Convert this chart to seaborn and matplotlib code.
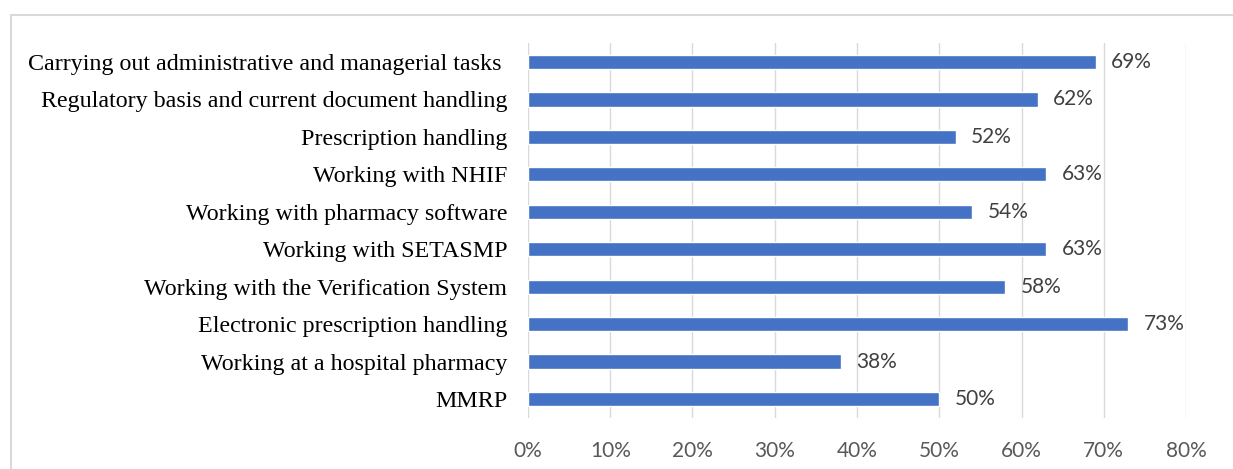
import matplotlib
matplotlib.use("Agg")
import matplotlib.pyplot as plt
import matplotlib.patches as mpatches
import seaborn as sns
import pandas as pd

# chart data
categories = [
    "Carrying out administrative and managerial tasks ",
    "Regulatory basis and current document handling",
    "Prescription handling",
    "Working with NHIF",
    "Working with pharmacy software",
    "Working with SETASMP",
    "Working with the Verification System",
    "Electronic prescription handling",
    "Working at a hospital pharmacy",
    "MMRP",
]
values = [69, 62, 52, 63, 54, 63, 58, 73, 38, 50]
x_ticks = [0, 10, 20, 30, 40, 50, 60, 70, 80]
x_tick_labels = [f"{t}%" for t in x_ticks]

df = pd.DataFrame({"task": categories, "pct": values})

sns.set_theme(style="white")

fig = plt.figure(figsize=(12.33, 4.69), dpi=100)
ax = fig.add_axes([0.4282, 0.1094, 0.9619 - 0.4282, 0.9077 - 0.1094])

sns.barplot(data=df, x="pct", y="task", orient="h", color="#4472C4",
            saturation=1, width=0.38, ax=ax, zorder=3)

ax.set_xlim(0, 80)
ax.set_xticks(x_ticks)
ax.set_xticklabels(x_tick_labels, fontfamily="Lato", fontsize=15, color="#595959")
ax.set_ylim(len(categories) - 0.5, -0.5)
ax.set_yticks(range(len(categories)))
ax.set_yticklabels(categories, fontfamily="Liberation Serif", fontsize=17.3, color="black")
ax.tick_params(axis="x", length=0, pad=17)
ax.tick_params(axis="y", length=0, pad=15)
ax.set_xlabel("")
ax.set_ylabel("")

ax.grid(axis="x", color="#D9D9D9", linewidth=1, zorder=0)
ax.set_axisbelow(True)
for s in ax.spines.values():
    s.set_visible(False)

for cont in ax.containers:
    ax.bar_label(cont, labels=[f"{v}%" for v in values], padding=11,
                 fontfamily="Lato", fontsize=15, color="#404040")

# outer chart frame (only top and left edges are in view)
frame = mpatches.Rectangle((11 / 1233, -0.1), 1.2, 1.1 - 15 / 469,
                           transform=fig.transFigure, fill=False,
                           edgecolor="#D9D9D9", linewidth=1.5)
fig.patches.append(frame)

fig.savefig("out.png", dpi=100)
